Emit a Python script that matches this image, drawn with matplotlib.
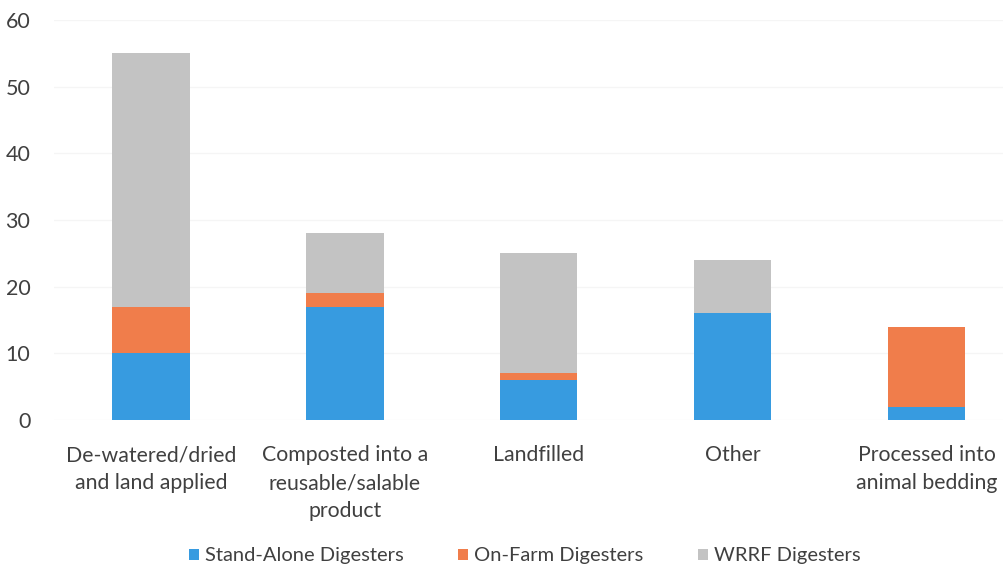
import matplotlib
matplotlib.use("Agg")
import matplotlib.pyplot as plt
import numpy as np

categories = [
    "De-watered/dried\nand land applied",
    "Composted into a\nreusable/salable\nproduct",
    "Landfilled",
    "Other",
    "Processed into\nanimal bedding",
]
stand_alone = [10, 17, 6, 16, 2]
on_farm = [7, 2, 1, 0, 12]
wrrf = [38, 9, 18, 8, 0]
series_names = ["Stand-Alone Digesters", "On-Farm Digesters", "WRRF Digesters"]
colors = ["#379be0", "#f07d4b", "#c3c3c3"]
yticks = [0, 10, 20, 30, 40, 50, 60]

plt.rcParams["font.family"] = ["Lato", "DejaVu Sans"]

fig = plt.figure(figsize=(10.04, 5.73), dpi=100)
ax = fig.add_axes([54 / 1004, 1 - 420 / 573, (1004 - 54) / 1004, 400 / 573])

x = np.arange(len(categories))
bottom = np.zeros(len(categories))
handles = []
for vals, name, col in zip([stand_alone, on_farm, wrrf], series_names, colors):
    h = ax.bar(x, vals, width=0.4, bottom=bottom, color=col, label=name, zorder=3)
    handles.append(h)
    bottom += np.array(vals)

ax.set_xlim(-0.5, 4.4)
ax.set_ylim(0, 60)
ax.set_yticks(yticks)
ax.set_yticklabels([str(v) for v in yticks], fontsize=15.5, color="#404040")
ax.yaxis.grid(True, color="#f5f5f5", linewidth=1, zorder=0)
ax.set_xticks(x)
ax.set_xticklabels(categories, fontsize=15.3, color="#404040", linespacing=1.5, va="top")
ax.tick_params(axis="both", length=0)
ax.tick_params(axis="x", pad=18)
ax.tick_params(axis="y", pad=17)
for s in ax.spines.values():
    s.set_visible(False)

fig.legend(handles=handles, labels=series_names, loc="center", bbox_to_anchor=(525 / 1004, 1 - 556 / 573),
           ncol=3, frameon=False, fontsize=14.5, handlelength=0.5, handleheight=0.5,
           handletextpad=0.3, columnspacing=2.7, labelcolor="#404040")

fig.savefig("out.png", dpi=100)
